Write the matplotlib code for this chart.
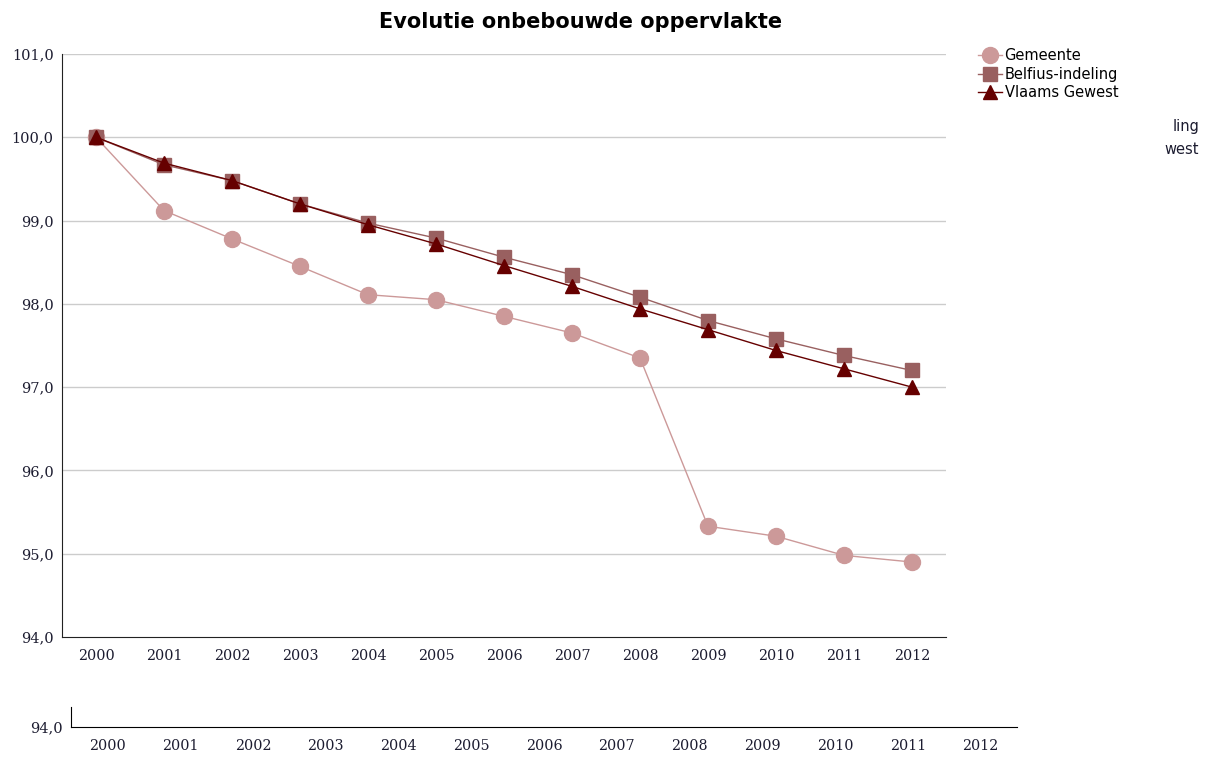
import matplotlib.pyplot as plt

# data
jaren = ["2000", "2001", "2002", "2003", "2004", "2005", "2006",
         "2007", "2008", "2009", "2010", "2011", "2012"]
gemeente = [100.0, 99.12, 98.78, 98.45, 98.11, 98.05, 97.85,
            97.65, 97.35, 95.33, 95.21, 94.98, 94.90]
belfius = [100.0, 99.67, 99.48, 99.20, 98.97, 98.79, 98.56,
           98.35, 98.08, 97.80, 97.58, 97.38, 97.20]
vlaams = [100.0, 99.69, 99.48, 99.20, 98.95, 98.72, 98.46,
          98.21, 97.94, 97.69, 97.44, 97.22, 97.00]
y_ticks = [94, 95, 96, 97, 98, 99, 100, 101]
y_labels = ["94,0", "95,0", "96,0", "97,0", "98,0", "99,0", "100,0", "101,0"]

W, H = 1211, 758
fig = plt.figure(figsize=(W / 100, H / 100), dpi=100)

def px_axes(left, top, right, bottom):
    return fig.add_axes([left / W, 1 - bottom / H, (right - left) / W, (bottom - top) / H])

tick_col = "#1c1c30"
ax = px_axes(62, 54, 946, 637)
x = list(range(len(jaren)))

ax.plot(x, gemeente, color="#cc9999", lw=1.0, marker="o", ms=11.5,
        mec="#cc9999", label="Gemeente", zorder=3)
ax.plot(x, belfius, color="#996060", lw=1.0, marker="s", ms=10.5,
        mec="#996060", label="Belfius-indeling", zorder=4)
ax.plot(x, vlaams, color="#660000", lw=1.0, marker="^", ms=9.5,
        mec="#660000", label="Vlaams Gewest", zorder=5)

ax.set_xlim(-0.5, len(jaren) - 0.5)
ax.set_ylim(94, 101)
ax.set_yticks(y_ticks)
ax.set_yticklabels(y_labels, fontfamily="DejaVu Serif", fontsize=10.5, color=tick_col)
ax.set_xticks(x)
ax.set_xticklabels(jaren, fontfamily="DejaVu Serif", fontsize=10.3, color=tick_col)
ax.tick_params(length=0, pad=9)
ax.tick_params(axis="y", pad=6)
for t in y_ticks[1:]:
    ax.axhline(t, color="#cccccc", lw=1.0, zorder=1)
for s in ["top", "right"]:
    ax.spines[s].set_visible(False)
ax.spines["left"].set_color("#222222")
ax.spines["bottom"].set_color("#222222")

ax.legend(loc="upper left", bbox_to_anchor=(1.03, 1.02), frameon=False,
          handlelength=1.6, handletextpad=0.2, labelspacing=0.25,
          borderaxespad=0, prop={"family": "DejaVu Sans", "size": 10.5})

fig.text(581 / W, 1 - 22 / H, "Evolutie onbebouwde oppervlakte", ha="center", va="center",
         fontsize=15, fontweight="bold", fontfamily="DejaVu Sans")

# restant van een tweede as onderaan
ax2 = px_axes(71, 707, 1017, 727)
ax2.set_xlim(-0.5, len(jaren) - 0.5)
ax2.set_ylim(94, 94 + 20 / 83.3)
ax2.set_yticks([94])
ax2.set_yticklabels(["94,0"], fontfamily="DejaVu Serif", fontsize=10.5, color=tick_col)
ax2.set_xticks(x)
ax2.set_xticklabels(jaren, fontfamily="DejaVu Serif", fontsize=10.3, color=tick_col)
ax2.tick_params(length=0, pad=9)
ax2.tick_params(axis="y", pad=6)
for s in ["top", "right"]:
    ax2.spines[s].set_visible(False)
ax2.patch.set_alpha(0)

# afgesneden legendetekst rechts
fig.text(1199 / W, 1 - 127 / H, "ling", ha="right", va="center",
         fontsize=10.5, fontfamily="DejaVu Sans", color="#1c1c30")
fig.text(1199 / W, 1 - 150 / H, "west", ha="right", va="center",
         fontsize=10.5, fontfamily="DejaVu Sans", color="#1c1c30")

fig.savefig("out.png", dpi=100)
